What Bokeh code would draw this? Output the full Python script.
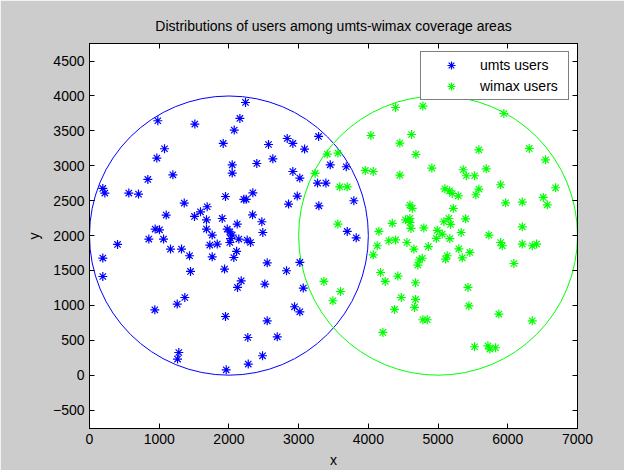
from bokeh.plotting import figure
from bokeh.models import Range1d, FixedTicker, LinearAxis, CustomJSTickFormatter, Legend, LegendItem
from bokeh.embed import file_html
from bokeh.resources import INLINE

# ---- data ----
umts_x = [980, 1511, 2238, 2157, 2076, 1918, 1076, 966, 2047, 2047, 1196, 837, 191, 220, 564, 703,
          1951, 2214, 2248, 1359, 1688, 1592, 1100, 1506, 1678, 1904, 942, 1004, 851, 1062, 402,
          1678, 1760, 1976, 2013, 2047, 2023, 2119, 2262, 2310, 2013, 1726, 1832, 1162, 1320, 1435,
          1760, 2142, 2110, 2070, 191, 191, 1449, 1937, 2176, 2123, 1367, 1258, 937, 1951, 2271,
          1281, 1263, 1961, 2277, 3286, 2836, 2917, 3085, 2568, 2630, 2400, 3453, 3683, 2917, 3017,
          3271, 3391, 2343, 2980, 2855, 3792, 3290, 2339, 2472, 2486, 3697, 3826, 2549, 2826, 3017,
          2515, 3066, 2941, 3017, 2549, 2693, 2482]
umts_y = [3645, 3597, 3907, 3678, 3511, 3320, 3244, 3110, 3014, 2895, 2871, 2804, 2675, 2609, 2609, 2594,
          2560, 2520, 2520, 2466, 2413, 2341, 2294, 2274, 2226, 2245, 2093, 2083, 1950, 1950, 1873,
          2093, 2007, 2093, 2054, 2007, 1958, 2165, 1935, 1901, 1901, 1864, 1878, 1806, 1806, 1711,
          1696, 1950, 1775, 1686, 1678, 1414, 1486, 1520, 1352, 1257, 1113, 1018, 937, 841, 540,
          325, 231, 77, 159, 3420, 3391, 3320, 3239, 3305, 3100, 3033, 3014, 2986, 2918, 2824,
          2752, 2752, 2613, 2566, 2451, 2499, 2427, 2298, 2198, 2044, 2059, 1968, 1610, 1496, 1615,
          1305, 1248, 980, 908, 779, 550, 278]

wimax_x = [4036, 3410, 3563, 3236, 3956, 4070, 3590, 3696, 3563, 4151, 4294, 4127, 4070, 4175, 4242,
           3362, 3601, 3491, 4208, 4390, 4782, 4620, 4452, 4682, 4911, 4452, 5098, 5165, 4596, 4630,
           4343, 4534, 4596, 4596, 4611, 4796, 4988, 5060, 4975, 5169, 5083, 5155, 5179, 4390, 4553,
           4653, 4860, 4730, 4773, 4710, 5131, 5108, 4423, 4677, 4472, 4677, 4663, 4376, 4782, 4845,
           5944, 5585, 6308, 6542, 5361, 5405, 5524, 5691, 5897, 6686, 5203, 5290, 5585, 5542, 5218,
           5968, 6208, 6509, 6566, 5395, 5332, 6208, 5729, 5897, 5921, 6208, 6351, 6413, 5298, 5456,
           5347, 6088, 5428, 5442, 5872, 6351, 5524, 5715, 5743, 5825]
wimax_y = [3434, 3168, 3182, 2890, 2933, 2918, 2699, 2699, 2165, 2059, 1926, 1854, 1725, 1471, 1343,
           1343, 1199, 1066, 612, 3835, 3855, 3448, 3325, 3162, 2967, 2867, 2670, 2642, 2437, 2390,
           2175, 2226, 2245, 2188, 2102, 2110, 2075, 2021, 1959, 1955, 2198, 2245, 2160, 1938, 1901,
           1807, 1842, 1650, 1675, 1577, 1711, 1663, 1420, 1324, 1113, 1085, 970, 942, 794, 794,
           3749, 3229, 3248, 3086, 2943, 2857, 2857, 2957, 2728, 2685, 2603, 2570, 2666, 2585, 2390,
           2470, 2480, 2546, 2441, 2240, 2044, 2126, 2007, 1901, 1854, 1878, 1854, 1878, 1810, 1758,
           1682, 1600, 1257, 994, 875, 779, 407, 421, 374, 393]

circle_x = [2000, 5000]
circle_y = [2000, 2000]
circle_d = [4000, 4000]
circle_colors = ["#0000ff", "#00ff00"]

x_ticks = [0, 1000, 2000, 3000, 4000, 5000, 6000, 7000]
y_ticks = [-500, 0, 500, 1000, 1500, 2000, 2500, 3000, 3500, 4000, 4500]

title_text = "Distributions of users among umts-wimax coverage areas"
FONT = "Liberation Sans"
FS = "14px"

p = figure(frame_width=488, frame_height=385,
           min_border_left=89, min_border_right=47, min_border_top=43, min_border_bottom=37,
           x_range=Range1d(0, 7000), y_range=Range1d(-764, 4752),
           output_backend="svg", toolbar_location=None, title=title_text)

p.background_fill_color = "white"
p.border_fill_color = "#cccccc"
p.outline_line_color = "black"
p.outline_line_width = 1
p.grid.visible = False

p.title.align = "center"
p.title.text_font = FONT
p.title.text_font_size = FS
p.title.text_font_style = "normal"
p.title.text_color = "black"
p.title.standoff = 20

for ax, ticks in ((p.xaxis[0], x_ticks), (p.yaxis[0], y_ticks)):
    ax.ticker = FixedTicker(ticks=ticks)
    ax.major_tick_in = 5
    ax.major_tick_out = 0
    ax.minor_tick_line_color = None
    ax.axis_line_color = "black"
    ax.major_tick_line_color = "black"
    ax.major_label_text_font = FONT
    ax.major_label_text_font_size = FS
    ax.major_label_text_color = "black"
    ax.axis_label_text_font = FONT
    ax.axis_label_text_font_size = FS
    ax.axis_label_text_font_style = "normal"
    ax.axis_label_text_color = "black"
    ax.major_label_standoff = 5

p.xaxis.axis_label = "x"
p.yaxis.axis_label = "y"
p.yaxis.axis_label_standoff = 8
p.xaxis.axis_label_standoff = 5

blank = CustomJSTickFormatter(code="return ''")
top_axis = LinearAxis(ticker=FixedTicker(ticks=x_ticks), formatter=blank, major_tick_in=5, major_tick_out=0,
                      minor_tick_line_color=None, axis_line_color="black", major_label_text_font_size="1px")
right_axis = LinearAxis(ticker=FixedTicker(ticks=y_ticks), formatter=blank, major_tick_in=5, major_tick_out=0,
                        minor_tick_line_color=None, axis_line_color="black", major_label_text_font_size="1px")
p.add_layout(top_axis, "above")
p.add_layout(right_axis, "right")

p.ellipse(x=circle_x, y=circle_y, width=circle_d, height=circle_d,
          fill_color=None, line_color=circle_colors, line_width=1)

r1 = p.scatter(umts_x, umts_y, marker="asterisk", size=9, line_color="#0000ff", line_width=1.2)
r2 = p.scatter(wimax_x, wimax_y, marker="asterisk", size=9, line_color="#00ff00", line_width=1.2)

legend = Legend(items=[LegendItem(label="umts users", renderers=[r1]),
                       LegendItem(label="wimax users", renderers=[r2])],
                location="top_right")
legend.margin = 8
legend.padding = 3
legend.spacing = 1
legend.glyph_width = 54
legend.glyph_height = 20
legend.label_height = 20
legend.label_width = 85
legend.label_standoff = 2
legend.label_text_font = FONT
legend.label_text_font_size = FS
legend.label_text_color = "black"
legend.border_line_color = "black"
legend.border_line_width = 1
legend.background_fill_color = "white"
legend.background_fill_alpha = 1
p.add_layout(legend, "center")

open("out.html", "w").write(file_html(p, INLINE))
